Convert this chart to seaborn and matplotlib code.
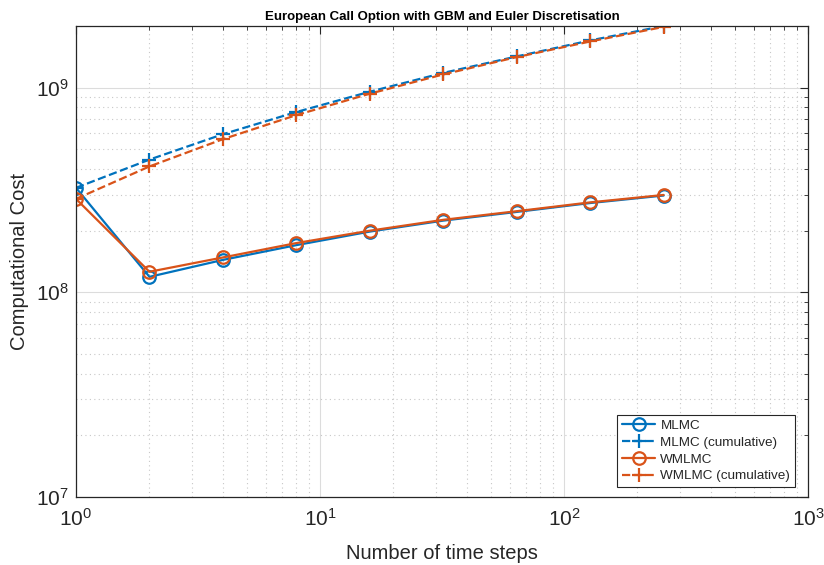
import numpy as np
import pandas as pd
import matplotlib
matplotlib.use("Agg")
import matplotlib.pyplot as plt
import seaborn as sns

# ---- data ----
time_steps = [1, 2, 4, 8, 16, 32, 64, 128, 256]
mlmc_cost = [3.24e8, 1.19e8, 1.44e8, 1.70e8, 1.98e8, 2.24e8, 2.47e8, 2.73e8, 2.97e8]
mlmc_cum = [3.24e8, 4.45e8, 5.92e8, 7.60e8, 9.55e8, 1.18e9, 1.42e9, 1.70e9, 2.00e9]
wmlmc_cost = [2.86e8, 1.26e8, 1.48e8, 1.74e8, 2.00e8, 2.26e8, 2.49e8, 2.75e8, 2.99e8]
wmlmc_cum = [2.86e8, 4.12e8, 5.60e8, 7.34e8, 9.34e8, 1.16e9, 1.41e9, 1.68e9, 1.98e9]
series_labels = ["MLMC", "MLMC (cumulative)", "WMLMC", "WMLMC (cumulative)"]
title = "European Call Option with GBM and Euler Discretisation"
xlabel = "Number of time steps"
ylabel = "Computational Cost"

sns.set_style("white")
plt.rcParams["font.family"] = ["Liberation Sans", "DejaVu Sans"]
plt.rcParams["mathtext.fontset"] = "custom"
plt.rcParams["mathtext.rm"] = "Liberation Sans"
plt.rcParams["mathtext.it"] = "Liberation Sans:italic"
plt.rcParams["mathtext.bf"] = "Liberation Sans:bold"

blue = "#0072BD"
orange = "#D95319"
dark = "#262626"

fig = plt.figure(figsize=(8.24, 5.65), dpi=100)
ax = fig.add_axes([76 / 824, 1 - 497 / 565, (808 - 76) / 824, (497 - 26) / 565])

specs = [
    (mlmc_cost, series_labels[0], blue, "-", "o"),
    (mlmc_cum, series_labels[1], blue, "--", "+"),
    (wmlmc_cost, series_labels[2], orange, "-", "o"),
    (wmlmc_cum, series_labels[3], orange, "--", "+"),
]
for vals, lab, col, ls, mk in specs:
    df = pd.DataFrame({"x": time_steps, "y": vals})
    sns.lineplot(data=df, x="x", y="y", ax=ax, color=col, linestyle=ls,
                 marker=mk, markersize=9 if mk == "o" else 10,
                 markerfacecolor="none", markeredgecolor=col,
                 markeredgewidth=1.6, linewidth=1.6, label=lab,
                 estimator=None, sort=False)

ax.set_xscale("log")
ax.set_yscale("log")
ax.set_xlim(1, 1000)
ax.set_ylim(1e7, 2.0e9)

ax.grid(True, which="major", color="#dcdcdc", linestyle="-", linewidth=0.8)
ax.grid(True, which="minor", color="#c8c8c8", linestyle=(0, (1, 3)), linewidth=0.8)
ax.set_axisbelow(True)

ax.tick_params(which="both", direction="in", top=True, right=True, colors=dark,
               labelcolor=dark)
ax.tick_params(which="major", length=6, width=0.8, labelsize=15)
ax.tick_params(axis="x", which="major", pad=8)
ax.tick_params(axis="y", which="major", pad=5)
ax.tick_params(which="minor", length=3, width=0.6)
for s in ax.spines.values():
    s.set_color(dark)
    s.set_linewidth(0.9)

ax.set_xlabel(xlabel, fontsize=14.5, color=dark)
ax.set_ylabel(ylabel, fontsize=14.5, color=dark)
ax.xaxis.set_label_coords(0.5, (497 - 544) / 471)
ax.yaxis.set_label_coords((29 - 76) / 732, 0.5)
ax.set_title(title, fontsize=9.5, fontweight="bold", color="black", pad=4)

leg = ax.legend(loc="lower right", bbox_to_anchor=(1 - 13 / 732, 10 / 471),
                borderaxespad=0, fontsize=9.7,
                frameon=True, fancybox=False, edgecolor=dark, framealpha=1,
                handlelength=2.45, borderpad=0.35, labelspacing=0.32,
                handletextpad=0.4)
leg.get_frame().set_linewidth(0.8)

fig.savefig("out.png", dpi=100)
